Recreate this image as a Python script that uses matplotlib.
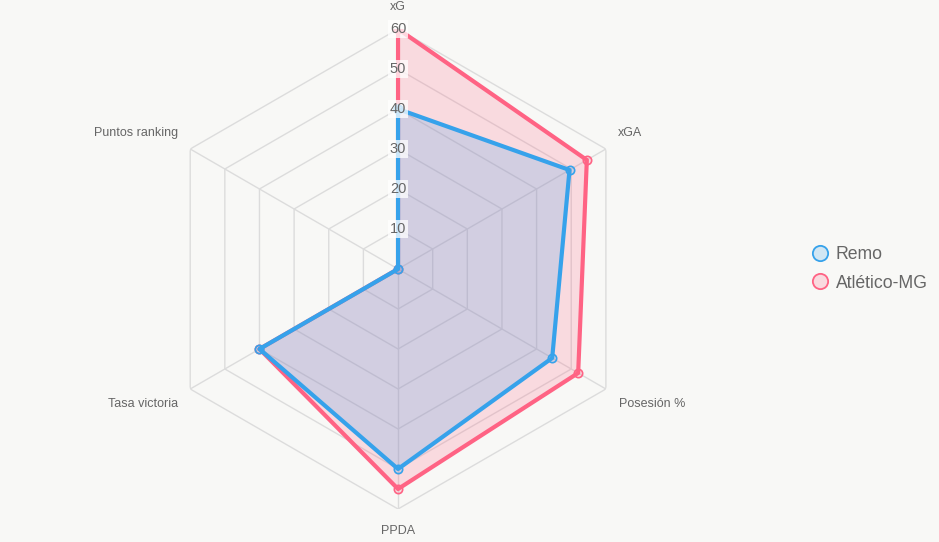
import numpy as np
import matplotlib.pyplot as plt
from matplotlib.lines import Line2D

plt.rcParams['font.family'] = ['Liberation Sans', 'DejaVu Sans']

# data
categories = ['xG', 'xGA', 'Posesión %', 'PPDA', 'Tasa victoria', 'Puntos ranking']
remo = [40, 49.5, 44.5, 50, 40, 0]
atletico = [60, 54.5, 52, 55, 40, 0]
series_names = ['Remo', 'Atlético-MG']
ticks = [10, 20, 30, 40, 50, 60]

blue = '#36a2eb'
pink = '#ff6384'
bg = '#f8f8f6'
grid_c = '#dcdcdc'
text_c = '#666666'

n = len(categories)
theta = np.linspace(0, 2 * np.pi, n, endpoint=False)
theta_closed = np.append(theta, theta[0])

fig = plt.figure(figsize=(9.39, 5.42), dpi=100, facecolor=bg)
ax = fig.add_axes([0.1683, 0.0609, 0.5112, 0.8856], projection='polar')
ax.set_facecolor('none')
ax.set_theta_offset(np.pi / 2)
ax.set_theta_direction(-1)
ax.set_ylim(0, 60)
ax.grid(False)
ax.spines['polar'].set_visible(False)
ax.set_xticks([])
ax.set_yticks([])

# hexagonal grid + angle lines
for t in ticks:
    ax.plot(theta_closed, [t] * (n + 1), color=grid_c, lw=1, zorder=1)
for th in theta:
    ax.plot([th, th], [0, 60], color=grid_c, lw=1, zorder=1)

# datasets (first one drawn on top)
for vals, col, z in [(atletico, pink, 3), (remo, blue, 4)]:
    v = np.append(vals, vals[0])
    ax.fill(theta_closed, v, color=col, alpha=0.2, lw=0, zorder=z)
    ax.plot(theta_closed, v, color=col, lw=3, zorder=z + 0.5,
            marker='o', markersize=6, markerfacecolor=col + '33',
            markeredgecolor=col, markeredgewidth=1.2)

# tick labels
for t in ticks:
    ax.text(0, t, str(t), ha='center', va='center', fontsize=10.5, color=text_c,
            zorder=6, bbox=dict(boxstyle='square,pad=0.15', fc=(1, 1, 1, 0.75), ec='none'))

# point labels
offsets = [(0, 22, 'center'), (12, 16, 'left'), (13, -15, 'left'),
           (0, -22, 'center'), (-12, -15, 'right'), (-12, 16, 'right')]
for th, lab, (dx, dy, ha) in zip(theta, categories, offsets):
    ax.annotate(lab, xy=(th, 60), xytext=(dx, dy), textcoords='offset pixels',
                ha=ha, va='center', fontsize=9, color=text_c, annotation_clip=False)

handles = [Line2D([], [], ls='none', marker='o', markersize=11,
                  markerfacecolor=c + '33', markeredgecolor=c, markeredgewidth=1.3)
           for c in (blue, pink)]
leg = fig.legend(handles, series_names, loc='center left', bbox_to_anchor=(0.845, 0.504),
                 frameon=False, fontsize=12.7, labelcolor=text_c, handletextpad=0.3,
                 labelspacing=0.65, handlelength=1.2)

fig.savefig('out.png', dpi=100, facecolor=bg)
